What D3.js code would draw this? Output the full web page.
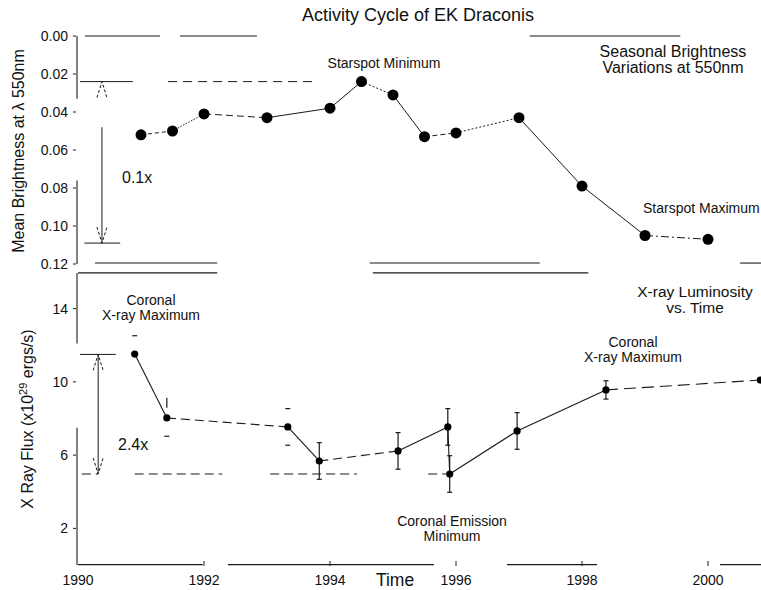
<!DOCTYPE html>
<html>
<head>
<meta charset="utf-8">
<script src="https://cdn.jsdelivr.net/npm/d3@7"></script>
<style>
  body { margin: 0; background: #fff; }
  text { font-family: "Liberation Sans", Arial, sans-serif; fill: #111; }
</style>
</head>
<body>
<svg id="chart" width="761" height="590"></svg>
<script>
// ---- Seasonal mean brightness at 550 nm (magnitudes below the brightest level)
const photYears = [1991.0, 1991.5, 1992.0, 1993.0, 1994.0, 1994.5, 1995.0, 1995.5, 1996.0, 1997.0, 1998.0, 1999.0, 2000.0];
const photBrightness = [0.052, 0.050, 0.041, 0.043, 0.038, 0.024, 0.031, 0.053, 0.051, 0.043, 0.079, 0.105, 0.107];

// ---- Coronal X-ray flux (x10^29 erg/s) with 1-sigma errors
const xrayYears = [1990.90, 1991.41, 1993.33, 1993.83, 1995.08, 1995.87, 1995.90, 1996.97, 1998.38, 2000.83];
const xrayFlux = [11.52, 8.03, 7.54, 5.68, 6.23, 7.54, 4.97, 7.32, 9.56, 10.10];
const xrayErr = [1.0, 1.0, 1.0, 1.0, 1.0, 1.0, 1.0, 1.0, 0.5, 0.0];

// ---- Axis ticks
const yearTicks = [1990, 1992, 1994, 1996, 1998, 2000];
const brightTicks = [0.00, 0.02, 0.04, 0.06, 0.08, 0.10, 0.12];
const fluxTicks = [2, 6, 10, 14];

// ---- Amplitude markers (starspot min/max, coronal max/min)
const brightLevels = [0.024, 0.109];
const fluxLevels = [11.5, 4.97];

const svg = d3.select("#chart");
const ink = "#1a1a1a";

const x = d3.scaleLinear().domain([1990, 2001]).range([78, 771]);
const yB = d3.scaleLinear().domain([0, 0.12]).range([36, 264]);
const yF = d3.scaleLinear().domain([0, 16]).range([565, 272]);

// connector dash patterns between successive points
const photDash = ["4,3", "1.5,1.5", "7,4", null, null, "2,2", null, "5,3", "2,2", null, null, "8,3,2,3"];
const xrayDash = [null, "9,5", null, "9,5", null, null, null, null, "12,6"];
// how much of each error bar is drawn
const xrayErrStyle = ["hiCap", "partial", "caps", "full", "full", "full", "full", "full", "full", "none"];

function seg(g, x1, y1, x2, y2, dash, w) {
  g.append("line").attr("x1", x1).attr("y1", y1).attr("x2", x2).attr("y2", y2)
    .attr("stroke", ink).attr("stroke-width", w || 1)
    .attr("stroke-dasharray", dash || null);
}

const frame = svg.append("g");
// broken frame pieces (year spans at a given level)
[[1990.11, 1991.30], [1991.62, 1992.84], [1997.17, 1999.56]].forEach(s =>
  seg(frame, x(s[0]), yB(0), x(s[1]), yB(0), null, 1.1));
[[1990.27, 1992.21], [1994.63, 1997.33], [2000.51, 2001]].forEach(s =>
  seg(frame, x(s[0]), yB(0.1195), x(s[1]), yB(0.1195), null, 1.1));
[[1990, 1992.21], [1994.68, 1998.10]].forEach(s =>
  seg(frame, x(s[0]), yF(15.95), x(s[1]), yF(15.95), null, 1.1));
[[1990, 1991.98], [1992.38, 1995.65], [1996.81, 1998.24], [2000.19, 2001]].forEach(s =>
  seg(frame, x(s[0]), yF(0.02), x(s[1]), yF(0.02), null, 1.1));
// left axis pieces
[[0, 0.033], [0.076, 0.12]].forEach(s => seg(frame, x(1990) - 1, yB(s[0]), x(1990) - 1, yB(s[1]), null, 1.1));
[[15.95, 12.1], [7.5, 0]].forEach(s => seg(frame, x(1990) - 1, yF(s[0]), x(1990) - 1, yF(s[1]), null, 1.1));

// y ticks and labels
brightTicks.forEach(t => {
  seg(frame, 73, yB(t), 76, yB(t), null, 1);
  frame.append("text").attr("x", 68).attr("y", yB(t)).attr("dy", "0.36em")
    .attr("text-anchor", "end").attr("font-size", 14).text(d3.format(".2f")(t));
});
fluxTicks.forEach(t => {
  seg(frame, 73, yF(t), 76, yF(t), null, 1);
  frame.append("text").attr("x", 68).attr("y", yF(t)).attr("dy", "0.36em")
    .attr("text-anchor", "end").attr("font-size", 14).text(t);
});
// x ticks and labels
yearTicks.forEach(t => {
  if (t > 1990) seg(frame, x(t), yF(0) - 4, x(t), yF(0) + 1, null, 1);
  frame.append("text").attr("x", x(t)).attr("y", 585)
    .attr("text-anchor", "middle").attr("font-size", 14).text(t);
});

// ---- reference levels and amplitude arrows
const ann = svg.append("g");
seg(ann, x(1990.03), yB(brightLevels[0]), x(1990.87), yB(brightLevels[0]));
seg(ann, x(1991.43), yB(brightLevels[0]), x(1993.73), yB(brightLevels[0]), "9,6");
seg(ann, x(1990.1), yB(brightLevels[1]), x(1990.67), yB(brightLevels[1]));
seg(ann, x(1990.03), yF(fluxLevels[0]), x(1990.6), yF(fluxLevels[0]));
[[1990.06, 1990.32], [1990.9, 1992.29], [1993.05, 1994.43], [1995.56, 1995.84]].forEach(s =>
  seg(ann, x(s[0]), yF(fluxLevels[1]), x(s[1]), yF(fluxLevels[1]), "9,5"));

function chevron(g, cx, cy, dir) {
  g.append("path")
    .attr("d", `M${cx - 5},${cy + dir * 16}L${cx},${cy}L${cx + 5},${cy + dir * 16}`)
    .attr("fill", "none").attr("stroke", ink).attr("stroke-width", 1)
    .attr("stroke-dasharray", "3,2");
}
const axB = x(1990.38), axF = x(1990.32);
seg(ann, axB, yB(0.048), axB, yB(brightLevels[1]));
chevron(ann, axB, yB(brightLevels[0]), 1);
chevron(ann, axB, yB(brightLevels[1]), -1);
seg(ann, axF, yF(fluxLevels[0]), axF, yF(fluxLevels[1]));
chevron(ann, axF, yF(fluxLevels[0]), 1);
chevron(ann, axF, yF(fluxLevels[1]), -1);

// ---- brightness series
const phot = photYears.map((t, i) => ({ t, v: photBrightness[i] }));
const gp = svg.append("g");
d3.pairs(phot).forEach(([a, b], i) =>
  seg(gp, x(a.t), yB(a.v), x(b.t), yB(b.v), photDash[i], 1));
gp.selectAll("circle").data(phot).join("circle")
  .attr("cx", d => x(d.t)).attr("cy", d => yB(d.v)).attr("r", 5.5).attr("fill", "#000");

// ---- X-ray series
const xr = xrayYears.map((t, i) => ({ t, v: xrayFlux[i], e: xrayErr[i], s: xrayErrStyle[i] }));
const gx = svg.append("g");
d3.pairs(xr).forEach(([a, b], i) =>
  seg(gx, x(a.t), yF(a.v), x(b.t), yF(b.v), xrayDash[i], 1.1));
xr.forEach(d => {
  const cx = x(d.t), hi = yF(d.v + d.e), lo = yF(d.v - d.e);
  if (d.s === "none") return;
  if (d.s === "full") seg(gx, cx, hi, cx, lo, null, 1.2);
  if (d.s === "partial") seg(gx, cx, hi - 2, cx, hi + 8, null, 1.2);
  if (d.s !== "partial") seg(gx, cx - 2.5, hi, cx + 2.5, hi, null, 1.2);
  if (d.s !== "hiCap") seg(gx, cx - 2.5, lo, cx + 2.5, lo, null, 1.2);
});
gx.selectAll("circle").data(xr).join("circle")
  .attr("cx", d => x(d.t)).attr("cy", d => yF(d.v)).attr("r", 3.6).attr("fill", "#000");

// ---- titles and labels
const txt = svg.append("g");
function label(str, px, py, size, anchor) {
  return txt.append("text").attr("x", px).attr("y", py).attr("font-size", size)
    .attr("text-anchor", anchor || "middle").text(str);
}
label("Activity Cycle of EK Draconis", 418, 21, 18);
label("Starspot Minimum", 384, 68, 14);
label("Seasonal Brightness", 673, 57, 16);
label("Variations at 550nm", 673, 73, 16);
label("Starspot Maximum", 643, 213, 14, "start");
label("0.1x", 122, 183, 16, "start");
label("2.4x", 118, 450, 16, "start");
label("Coronal", 151, 305, 14);
label("X-ray Maximum", 151, 320, 14);
label("X-ray Luminosity", 695, 297, 15.5);
label("vs. Time", 695, 313, 15.5);
label("Coronal", 633, 347, 14);
label("X-ray Maximum", 633, 362, 14);
label("Coronal Emission", 452, 526, 14);
label("Minimum", 452, 541, 14);
label("Time", 395, 586, 17.5);

txt.append("text").attr("transform", "translate(24,151) rotate(-90)")
  .attr("text-anchor", "middle").attr("font-size", 16).text("Mean Brightness at λ 550nm");
const yl = txt.append("text").attr("transform", "translate(33,419) rotate(-90)")
  .attr("text-anchor", "middle").attr("font-size", 16);
yl.append("tspan").text("X Ray Flux (x10");
yl.append("tspan").attr("font-size", 11).attr("dy", -6).text("29");
yl.append("tspan").attr("dy", 6).text(" ergs/s)");
</script>
</body>
</html>
